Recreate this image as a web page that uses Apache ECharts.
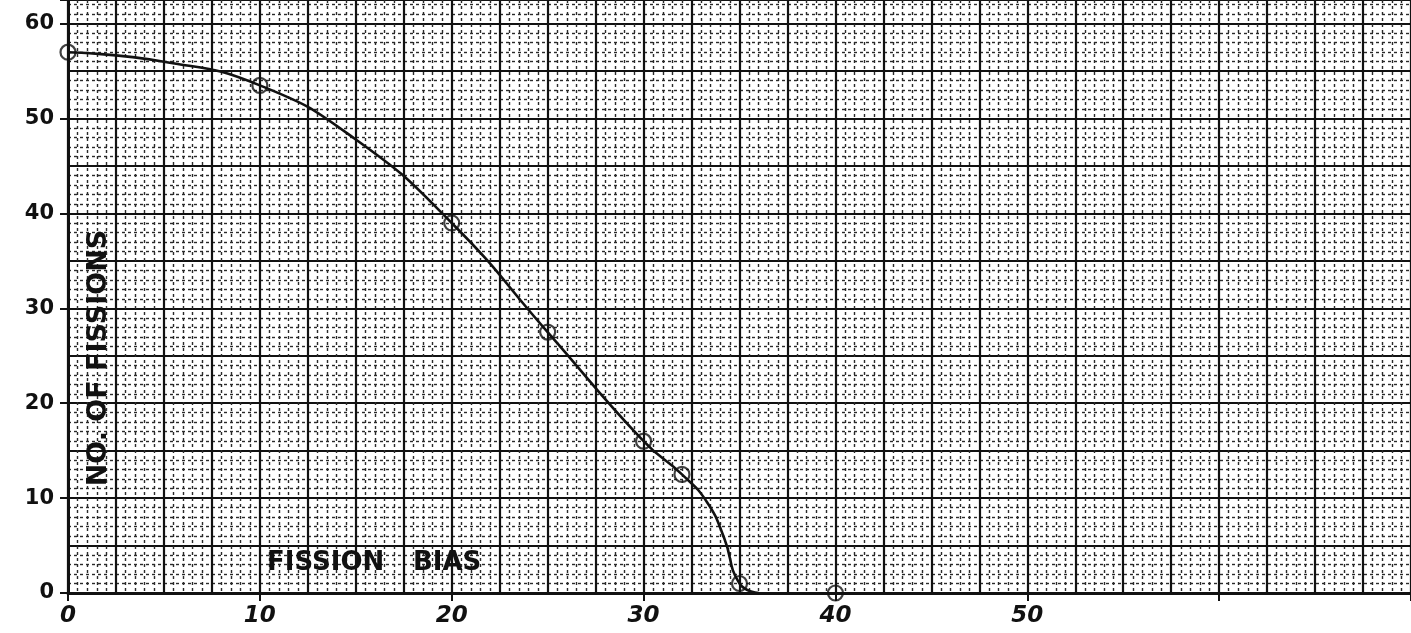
<!DOCTYPE html>
<html>
<head>
<meta charset="utf-8">
<script src="https://cdn.jsdelivr.net/npm/echarts@6/dist/echarts.min.js"></script>
<style>
  html, body { margin: 0; padding: 0; background: #fff; }
  #chart { width: 1411px; height: 633px; }
</style>
</head>
<body>
<div id="chart"></div>
<script>
// ---- data ----
// hand-drawn curve, traced at the plotted points plus a few points
const curveX = [0, 5, 10, 15, 20, 25, 30, 32, 33.3, 34.2, 35, 36];
const curveY = [57, 56, 53.5, 47.8, 39, 27.5, 16, 12.5, 9.6, 5.8, 1, 0];
// plotted (circled) points
const pointX = [0, 10, 20, 25, 30, 32, 35, 40];
const pointY = [57, 53.5, 39, 27.5, 16, 12.5, 1, 0];
const xTickLabels = [0, 10, 20, 30, 40, 50];
const yTickLabels = [0, 10, 20, 30, 40, 50, 60];
const xAxisTitle = ['FISSION', 'BIAS'];
const yAxisTitle = 'NO. OF FISSIONS';

const INK = '#111';
const chart = echarts.init(document.getElementById('chart'), null, { renderer: 'canvas' });

const curveData = curveX.map((x, i) => [x, curveY[i]]);
const pointData = pointX.map((x, i) => [x, pointY[i]]);

const option = {
  backgroundColor: '#fff',
  animation: false,
  grid: { left: 68, right: 0, top: 0, bottom: 40, containLabel: false, outerBoundsMode: 'none' },
  xAxis: [{
    type: 'value', min: 0, max: 70, interval: 2.5,
    axisLine: { show: true, onZero: false, lineStyle: { color: INK, width: 3 } },
    axisTick: { show: false },
    axisLabel: {
      margin: 12, color: INK, fontSize: 23, fontStyle: 'italic', fontWeight: 'bold',
      fontFamily: 'DejaVu Sans',
      formatter: v => xTickLabels.indexOf(v) >= 0 ? String(v) : ''
    },
    splitLine: { show: true, lineStyle: { color: INK, width: 2.2 } },
    minorTick: { show: false, splitNumber: 5 },
    minorSplitLine: { show: true, lineStyle: { color: '#2a2a2a', width: 1.4, type: [3, 3] } }
  }, {
    type: 'value', min: 0, max: 70, interval: 10, position: 'bottom',
    axisLine: { show: false }, axisLabel: { show: false }, splitLine: { show: false },
    axisTick: { show: true, length: 8, lineStyle: { color: INK, width: 2 } }
  }],
  yAxis: [{
    type: 'value', min: 0, max: 62.5, interval: 5,
    axisLine: { show: true, onZero: false, lineStyle: { color: INK, width: 3 } },
    axisTick: { show: false },
    axisLabel: {
      margin: 14, color: INK, fontSize: 21, fontWeight: 'bold', fontFamily: 'DejaVu Sans',
      formatter: v => yTickLabels.indexOf(v) >= 0 ? String(v) : ''
    },
    splitLine: { show: true, lineStyle: { color: INK, width: 2.2 } },
    minorTick: { show: false, splitNumber: 5 },
    minorSplitLine: { show: true, lineStyle: { color: '#2a2a2a', width: 1.4, type: [3, 3] } }
  }, {
    type: 'value', min: 0, max: 62.5, interval: 10, position: 'left',
    axisLine: { show: false }, axisLabel: { show: false }, splitLine: { show: false },
    axisTick: { show: true, length: 8, lineStyle: { color: INK, width: 2 } }
  }],
  series: [{
    type: 'line', data: curveData, smooth: 0.5, showSymbol: false,
    lineStyle: { color: INK, width: 2.6 }, z: 5
  }, {
    type: 'scatter', data: pointData, symbol: 'circle', symbolSize: 15,
    itemStyle: { color: 'rgba(255,255,255,0)', borderColor: INK, borderWidth: 2.2 }, z: 6
  }],
  graphic: [
    { type: 'text', x: 267, y: 563, z: 10,
      style: { text: xAxisTitle[0], fill: INK, font: 'bold 26px "DejaVu Sans"', align: 'left', verticalAlign: 'middle' } },
    { type: 'text', x: 413, y: 563, z: 10,
      style: { text: xAxisTitle[1], fill: INK, font: 'bold 26px "DejaVu Sans"', align: 'left', verticalAlign: 'middle' } },
    { type: 'text', x: 99, y: 358, rotation: Math.PI / 2, z: 10,
      style: { text: yAxisTitle, fill: INK, font: 'bold 27px "DejaVu Sans"', align: 'center', verticalAlign: 'middle' } }
  ]
};
chart.setOption(option);
</script>
</body>
</html>
